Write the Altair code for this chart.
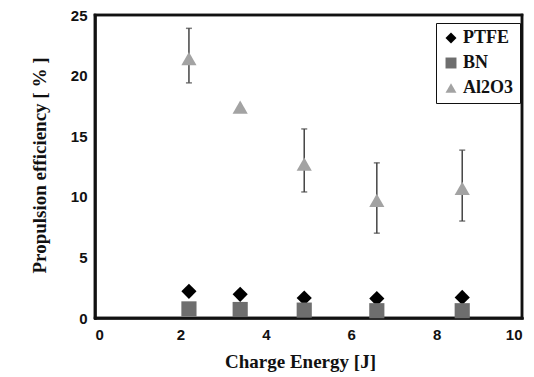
import altair as alt
import pandas as pd

energy = [2.2, 3.4, 4.9, 6.6, 8.6]
ptfe = [2.2, 1.95, 1.65, 1.6, 1.7]
bn = [0.75, 0.7, 0.65, 0.6, 0.6]
al2o3 = [21.4, 17.4, 12.7, 9.7, 10.7]
al2o3_lo = [19.4, None, 10.4, 7.0, 8.0]
al2o3_hi = [23.9, None, 15.6, 12.8, 13.85]

materials = ["PTFE", "BN", "Al2O3"]
colors = ["#000000", "#6e6e6e", "#a3a3a3"]
shapes = ["diamond", "square", "triangle-up"]

W, H = 427, 303

rows = []
for name, vals in zip(materials, [ptfe, bn, al2o3]):
    for e, v in zip(energy, vals):
        rows.append({"energy": e, "eff": v, "material": name})
pts = pd.DataFrame(rows)

err = pd.DataFrame({"energy": energy, "lo": al2o3_lo, "hi": al2o3_hi}).dropna()

frame_x = [0, 10, 0, 0]
frame_x2 = [0, 10, 10, 10]
frame_y = [0, 0, 0, 25]
frame_y2 = [25, 25, 0, 25]
frame_df = pd.DataFrame({"x1": frame_x, "x2": frame_x2, "y1": frame_y, "y2": frame_y2})

xs = alt.Scale(domain=[0, 10], nice=False)
ys = alt.Scale(domain=[0, 25], nice=False)

xaxis = alt.Axis(values=[0, 2, 4, 6, 8, 10], title="Charge Energy [J]", grid=False, ticks=False,
                 domain=True, domainColor="#111", domainWidth=2.5, domainCap="square",
                 labelPadding=9, labelFont="Liberation Sans", labelFontWeight="bold",
                 labelFontSize=15, labelColor="#111", titleFont="Liberation Serif", titleFontWeight="bold",
                 titleFontSize=19, titleColor="#111", titleX=205, titleY=49, titleBaseline="alphabetic",
                 titleAlign="center")
yaxis = alt.Axis(values=[0, 5, 10, 15, 20, 25], title="Propulsion efficiency [ % ]", grid=False, ticks=False,
                 domain=True, domainColor="#111", domainWidth=2.5, domainCap="square",
                 labelPadding=8, labelFont="Liberation Sans", labelFontWeight="bold",
                 labelFontSize=15, labelColor="#111", titleFont="Liberation Serif", titleFontWeight="bold",
                 titleFontSize=19, titleColor="#111", titleX=-50, titleY=150, titleAngle=-90,
                 titleBaseline="alphabetic", titleAlign="center")

frame = alt.Chart(frame_df).mark_rule(color="#111", strokeWidth=2.5, strokeCap="square").encode(
    x=alt.X("x1:Q", scale=xs, axis=xaxis), x2="x2:Q",
    y=alt.Y("y1:Q", scale=ys, axis=yaxis), y2="y2:Q",
)

rules = alt.Chart(err).mark_rule(color="#444", strokeWidth=1.5).encode(
    x=alt.X("energy:Q", scale=xs),
    y=alt.Y("lo:Q", scale=ys),
    y2="hi:Q",
)
cap_lo = alt.Chart(err).mark_tick(color="#444", orient="horizontal", size=6, thickness=1.5).encode(
    x=alt.X("energy:Q", scale=xs), y=alt.Y("lo:Q", scale=ys))
cap_hi = alt.Chart(err).mark_tick(color="#444", orient="horizontal", size=6, thickness=1.5).encode(
    x=alt.X("energy:Q", scale=xs), y=alt.Y("hi:Q", scale=ys))

points = alt.Chart(pts).mark_point(filled=True, opacity=1, size=230).encode(
    x=alt.X("energy:Q", scale=xs),
    y=alt.Y("eff:Q", scale=ys),
    color=alt.Color("material:N", scale=alt.Scale(domain=materials, range=colors),
                    legend=alt.Legend(title=None, orient="none", legendX=341, legendY=8,
                                      strokeColor="#111", fillColor="white", padding=6,
                                      rowPadding=7, symbolSize=120, symbolOffset=0,
                                      labelFont="Liberation Serif", labelFontWeight="bold",
                                      labelFontSize=18, labelColor="#111", labelOffset=3)),
    shape=alt.Shape("material:N", scale=alt.Scale(domain=materials, range=shapes)),
    order=alt.Order("energy:Q"),
)

chart = alt.layer(frame, rules, cap_lo, cap_hi, points).properties(
    width=W, height=H,
    background="white",
    autosize=alt.AutoSizeParams(type="none"),
    padding={"left": 87, "top": 7, "right": 4, "bottom": 59},
).configure_view(stroke="#111", strokeWidth=2.5)

chart.save("out.html", embed_options={"renderer": "svg", "actions": False})
